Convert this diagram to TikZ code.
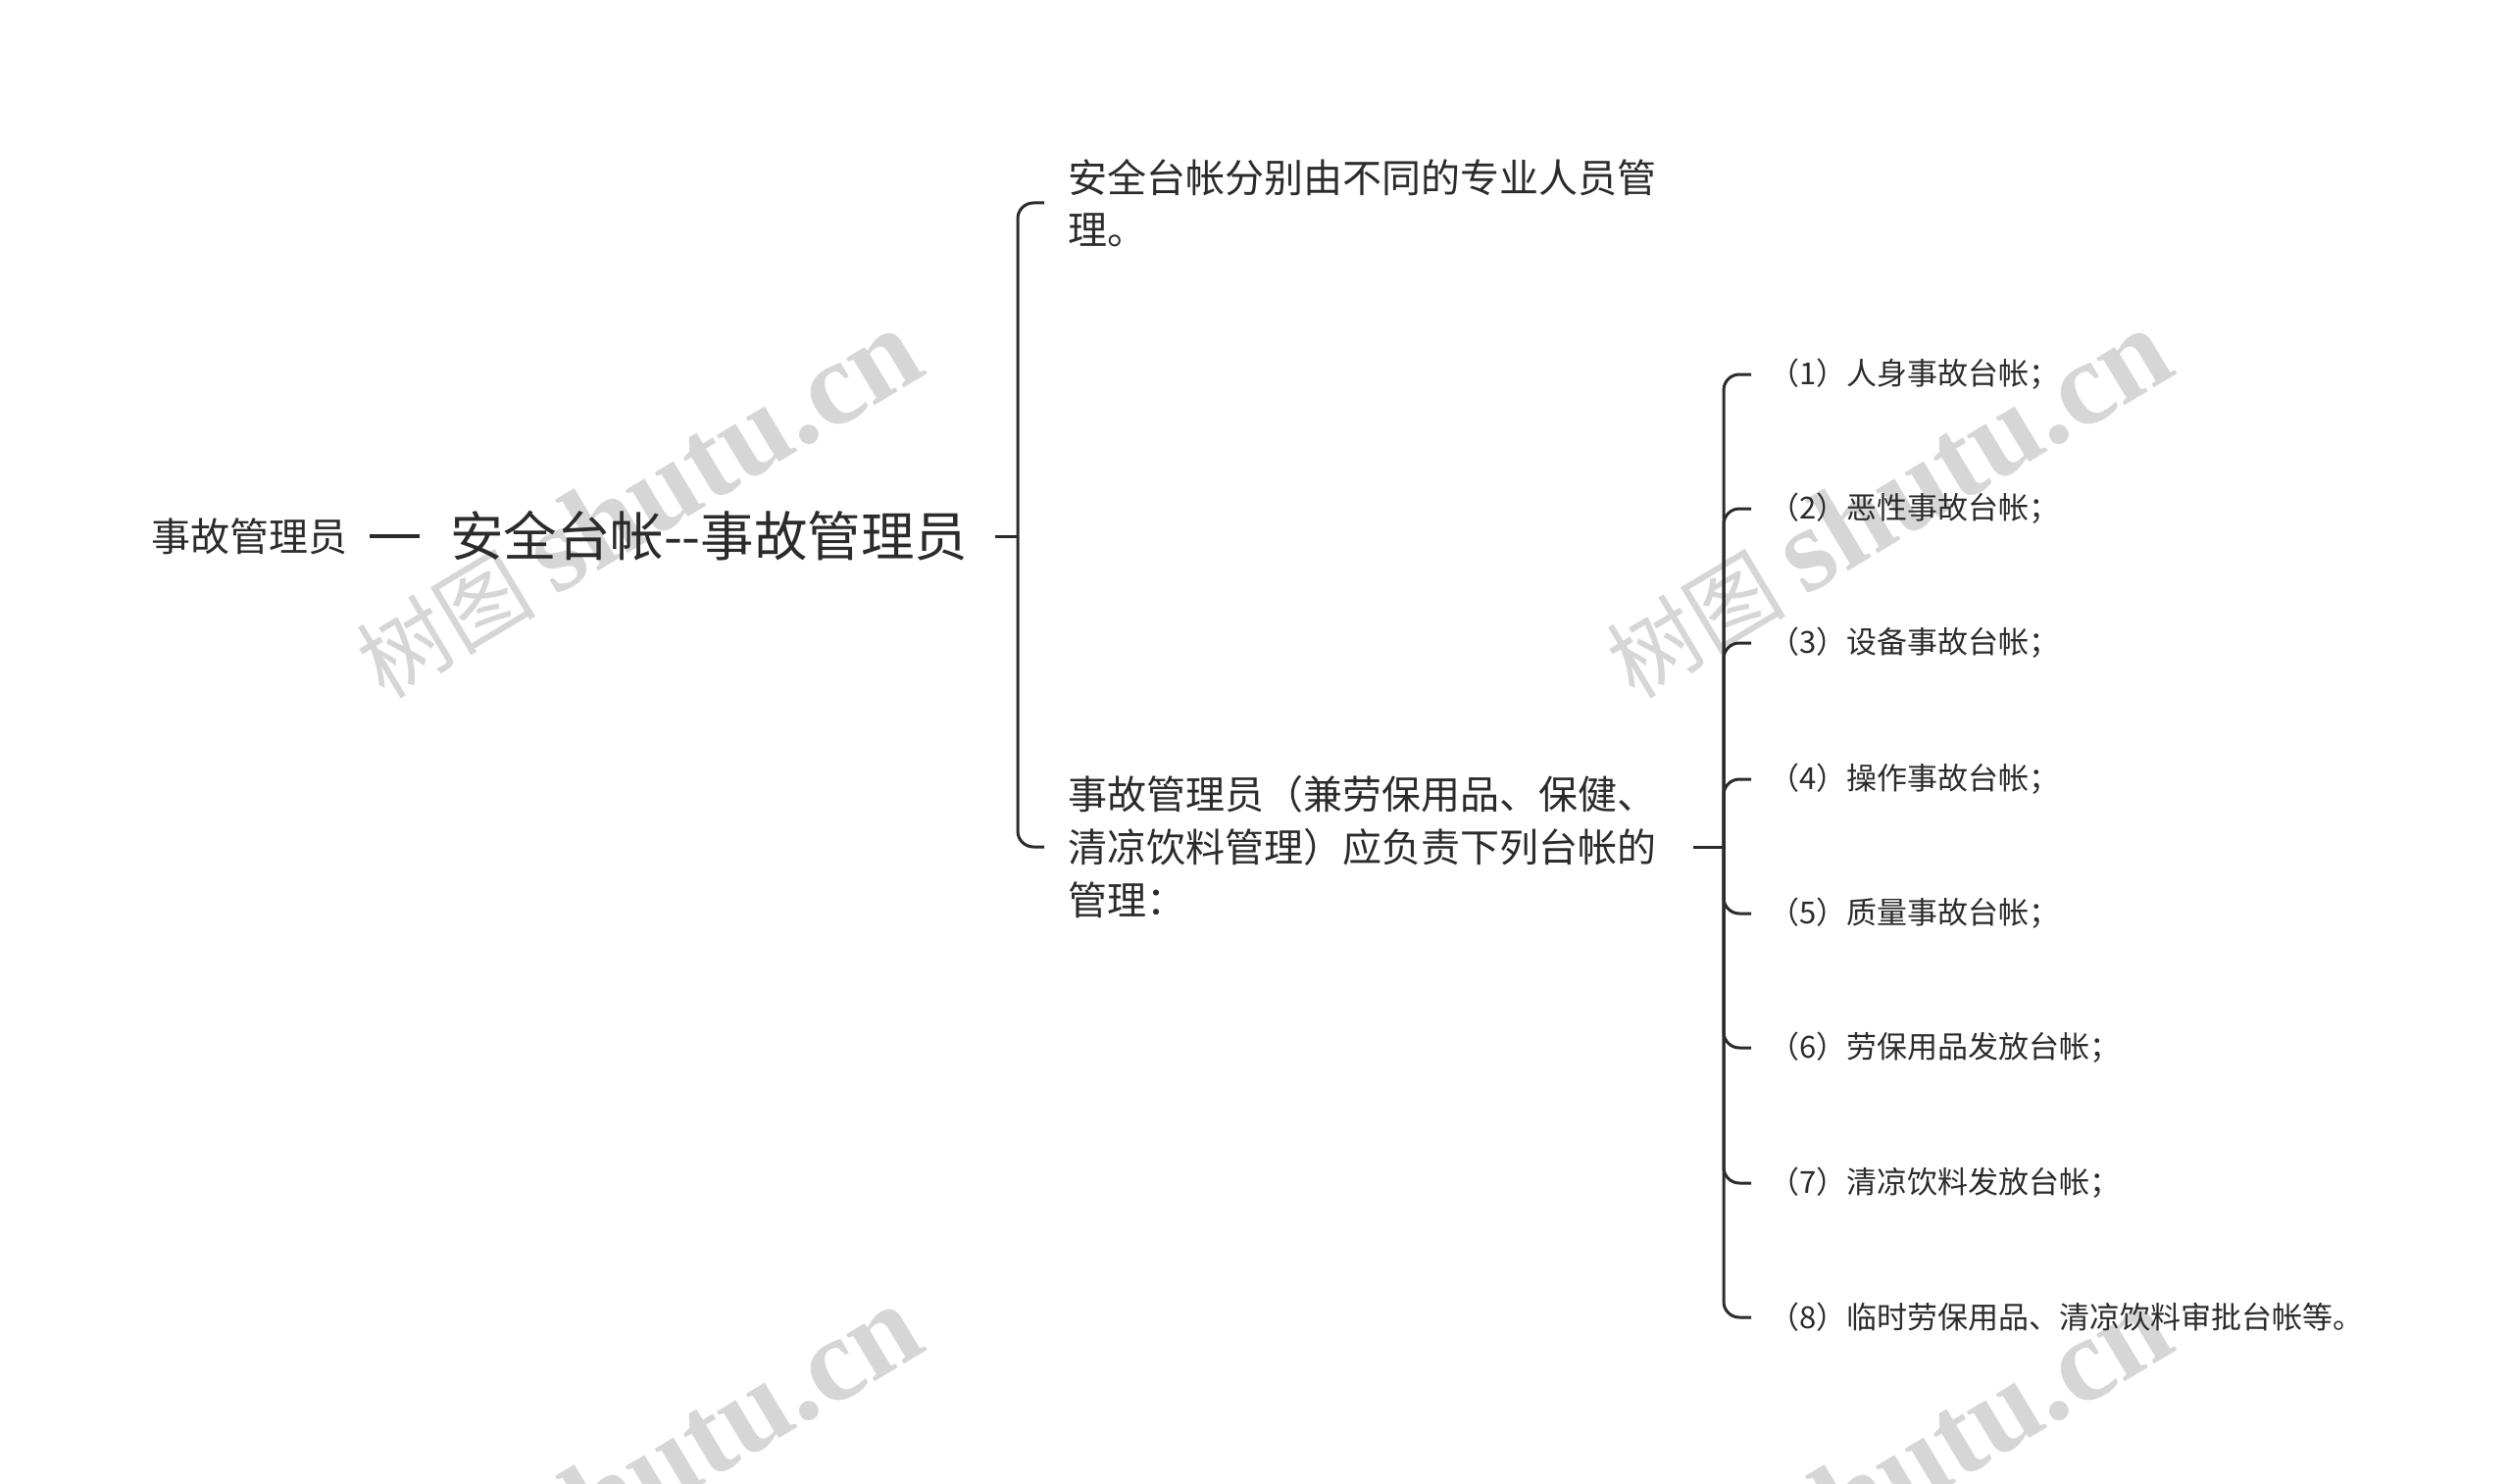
\documentclass[tikz,border=0pt]{standalone}
\usepackage{fontspec}
\setmainfont{Noto Sans CJK SC}
\newfontfamily\cjk{Noto Sans CJK SC}
\newfontfamily\wmlat{Liberation Serif}
\definecolor{ink}{HTML}{2B2B2B}
\definecolor{wmgray}{HTML}{D6D6D6}
\begin{document}
\begin{tikzpicture}[x=1pt,y=-1pt,
  txt/.style={inner sep=0pt, outer sep=0pt, text=ink, anchor=west, align=left},
  leaf/.style={txt, font=\fontsize{31}{37}\selectfont},
  conn/.style={draw=ink, line width=3pt, rounded corners=16pt},
  wm/.style={text=wmgray, rotate=31, inner sep=0pt}]
\useasboundingbox (0,0) rectangle (2560,1514);
% watermarks
\foreach \wx/\wy [count=\i] in {650/514, 1925/514, 650/1510, 1925/1510}{
  \node[wm] (wm\i) at (\wx,\wy) {{\cjk\fontsize{92}{96}\selectfont 树图}\hspace{20pt}{\wmlat\bfseries\fontsize{122}{126}\selectfont shutu.cn}};
}
% nodes
\node[txt, font=\fontsize{40}{48}\selectfont] (left) at (154,547) {事故管理员};
\node[txt, font=\fontsize{54.5}{66}\selectfont] (root) at (459,547) {安全台帐{-}{-}事故管理员};
\node[txt, font=\fontsize{40}{53}\selectfont] (c1) at (1089,207) {安全台帐分别由不同的专业人员管\\理。};
\node[txt, font=\fontsize{40}{54}\selectfont] (c2) at (1089,864) {事故管理员（兼劳保用品、保健、\\清凉饮料管理）应负责下列台帐的\\管理：};
\node[leaf] (l1) at (1804,382) {（1）人身事故台帐；};
\node[leaf] (l2) at (1804,519) {（2）恶性事故台帐；};
\node[leaf] (l3) at (1804,656) {（3）设备事故台帐；};
\node[leaf] (l4) at (1804,795) {（4）操作事故台帐；};
\node[leaf] (l5) at (1804,932) {（5）质量事故台帐；};
\node[leaf] (l6) at (1804,1069) {（6）劳保用品发放台帐；};
\node[leaf] (l7) at (1804,1207) {（7）清凉饮料发放台帐；};
\node[leaf] (l8) at (1804,1344) {（8）临时劳保用品、清凉饮料审批台帐等。};
\coordinate (j1) at (1038,547);
\coordinate (j2) at (1758,864);
% connectors
\draw[draw=ink, line width=4pt] ([xshift=23pt]left.east) -- ([xshift=-31pt]root.west);
\draw[draw=ink, line width=3pt] ([xshift=28pt]root.east) -- (j1);
\draw[conn] (j1) |- ([xshift=-24pt]c1.west);
\draw[conn] (j1) |- ([xshift=-24pt]c2.west);
\draw[draw=ink, line width=3pt] ([xshift=38pt]c2.east) -- (j2);
\foreach \k in {1,...,8}{
  \draw[conn] (j2) |- ([xshift=-18pt]l\k.west);
}
\end{tikzpicture}
\end{document}
